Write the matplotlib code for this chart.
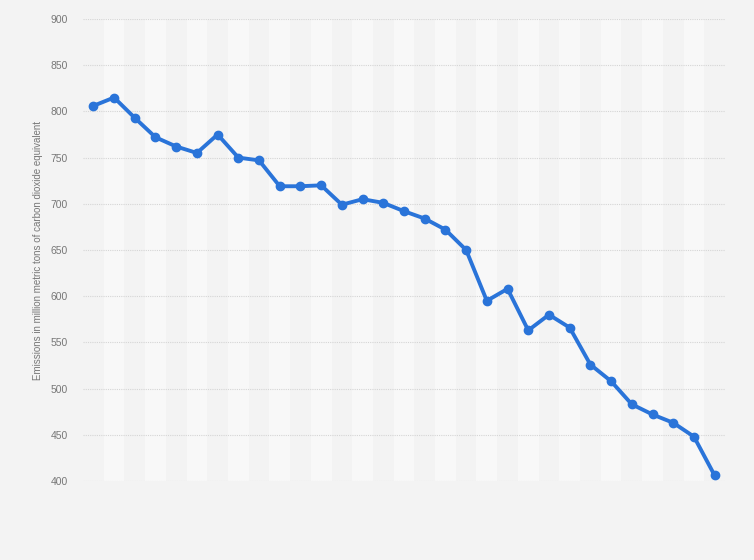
import matplotlib
matplotlib.use("Agg")
import matplotlib.pyplot as plt

plt.rcParams['font.family'] = ['Liberation Sans', 'DejaVu Sans']

years = list(range(1990, 2021))
emissions = [806, 815, 793, 772, 762, 755, 775, 750, 747, 719, 719, 720, 699, 705,
             701, 692, 684, 672, 650, 595, 608, 563, 580, 566, 526, 508, 483, 472,
             463, 448, 406]
yticks = [400, 450, 500, 550, 600, 650, 700, 750, 800, 850, 900]

fig = plt.figure(figsize=(7.54, 5.6), dpi=100)
fig.patch.set_facecolor('#f3f3f3')
ax = fig.add_axes([83/754, 1 - 481/560, (725-83)/754, (481-19)/560])
ax.set_facecolor('#f3f3f3')

n = len(years)
xs = list(range(n))
for i in xs:
    if i % 2 == 1:
        ax.axvspan(i - 0.5, i + 0.5, color='#f8f8f8', zorder=0, lw=0)

ax.set_xlim(-0.5, n - 0.5)
ax.set_ylim(400, 900)
ax.set_yticks(yticks)
ax.set_yticklabels([str(t) for t in yticks])
ax.yaxis.grid(True, linestyle=(0, (1, 1)), color='#d5d5d5', linewidth=0.8, zorder=1)
ax.set_axisbelow(True)
ax.set_xticks([])
for s in ax.spines.values():
    s.set_visible(False)
ax.tick_params(axis='y', length=0, pad=11, labelsize=7.5, labelcolor='#777777')

ax.plot(xs, emissions, color='#2a74d9', linewidth=2.8, marker='o', markersize=6,
        zorder=3, solid_joinstyle='round')

ax.set_ylabel('Emissions in million metric tons of carbon dioxide equivalent',
              fontsize=7, color='#777777', labelpad=5)

fig.savefig('out.png', dpi=100, facecolor=fig.get_facecolor())
